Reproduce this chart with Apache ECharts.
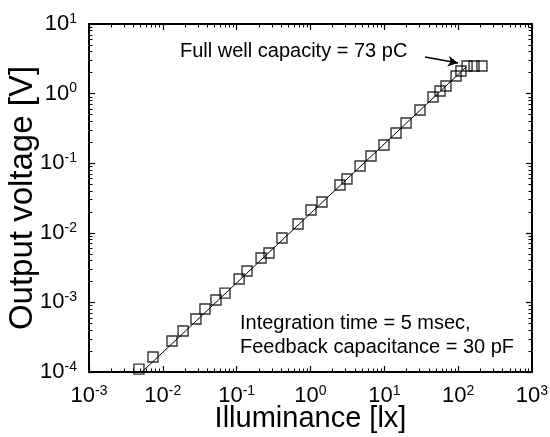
<!DOCTYPE html>
<html>
<head>
<meta charset="utf-8">
<script src="https://cdn.jsdelivr.net/npm/echarts@6/dist/echarts.min.js"></script>
<style>
  html, body { margin: 0; padding: 0; background: #fff; }
  #chart { width: 550px; height: 437px; }
</style>
</head>
<body>
<div id="chart"></div>
<script>
// measured points: illuminance [lx] vs output voltage [V]
const illuminance = [0.00475, 0.00736, 0.0133, 0.0188, 0.0281, 0.0372, 0.0525, 0.0695, 0.108, 0.138,
  0.214, 0.274, 0.411, 0.678, 1.016, 1.43, 2.51, 3.12, 4.69, 6.6,
  9.9, 14.4, 19.7, 30.4, 45.6, 56.8, 68.4, 93.5, 109, 132, 164, 210]
const voltage = [1.1e-4, 1.64e-4, 2.79e-4, 3.88e-4, 5.77e-4, 8.04e-4, 1.08e-3, 1.36e-3, 2.17e-3, 2.83e-3,
  4.35e-3, 5.13e-3, 8.42e-3, 0.01337, 0.0213, 0.0277, 0.0486, 0.0593, 0.0912, 0.127,
  0.1825, 0.272, 0.378, 0.581, 0.894, 1.09, 1.285, 1.79, 2.11, 2.49, 2.49, 2.49]

// fitted line
const fitX = [0.0052, 128]
const fitY = [1.0e-4, 2.41]

// arrow annotation (data coords)
const arrowFrom = [35.6, 3.36]
const arrowTo = [99.5, 2.75]

const xRange = [1e-3, 1e3]
const yRange = [1e-4, 1e1]

const font = 'Liberation Sans, Arial, sans-serif'

const pointData = illuminance.map((x, i) => [x, voltage[i]])
const fitData = fitX.map((x, i) => [x, fitY[i]])

function powLabel(v) {
  const e = Math.round(Math.log10(v))
  return '{b|10}{e|' + e + '}'
}
const rich = {
  b: { fontSize: 22, fontFamily: font, color: '#000', lineHeight: 24 },
  e: { fontSize: 14, fontFamily: font, color: '#000', verticalAlign: 'top', lineHeight: 14 }
}

function baseAxis(range, extra) {
  return Object.assign({
    type: 'log',
    logBase: 10,
    min: range[0],
    max: range[1],
    axisLine: { show: true, lineStyle: { color: '#000', width: 2 } },
    axisTick: { show: true, inside: true, length: 6, lineStyle: { color: '#000', width: 1.2 } },
    minorTick: { show: true, splitNumber: 9, length: 3.5, lineStyle: { color: '#000', width: 1 } },
    splitLine: { show: false },
    minorSplitLine: { show: false }
  }, extra)
}

const chart = echarts.init(document.getElementById('chart'), null, { renderer: 'canvas' })
chart.setOption({
  animation: false,
  backgroundColor: '#fff',
  grid: { left: 89, right: 18, top: 24, bottom: 65, containLabel: false, outerBoundsMode: 'none' },
  xAxis: [
    baseAxis(xRange, {
      position: 'bottom',
      name: 'Illuminance [lx]',
      nameLocation: 'middle',
      nameGap: 32,
      nameMoveOverlap: false,
      nameTextStyle: { fontSize: 29, fontFamily: font, color: '#000' },
      axisLabel: { margin: 12, fontSize: 22, formatter: powLabel, rich: rich }
    }),
    baseAxis(xRange, { position: 'top', axisLabel: { show: false } })
  ],
  yAxis: [
    baseAxis(yRange, {
      position: 'left',
      name: 'Output voltage [V]',
      nameLocation: 'middle',
      nameGap: 50,
      nameMoveOverlap: false,
      nameTextStyle: { fontSize: 33, fontFamily: font, color: '#000' },
      axisLabel: { margin: 12, fontSize: 22, formatter: powLabel, rich: rich }
    }),
    baseAxis(yRange, { position: 'right', axisLabel: { show: false } })
  ],
  series: [
    {
      type: 'line',
      data: fitData,
      symbol: 'none',
      lineStyle: { color: '#000', width: 1 },
      silent: true,
      markLine: {
        silent: true,
        symbol: ['none', 'arrow'],
        symbolSize: [8, 10],
        label: { show: false },
        lineStyle: { color: '#000', width: 1.5, type: 'solid' },
        data: [[{ coord: arrowFrom }, { coord: arrowTo }]]
      }
    },
    {
      type: 'scatter',
      data: pointData,
      symbol: 'rect',
      symbolSize: 10,
      itemStyle: { color: 'rgba(0,0,0,0)', borderColor: '#000', borderWidth: 1.4 }
    }
  ],
  graphic: [
    {
      type: 'text', left: 180, top: 41,
      style: { text: 'Full well capacity = 73 pC', font: '20px ' + font, fill: '#000' }
    },
    {
      type: 'text', left: 240, top: 311,
      style: { text: 'Integration time = 5 msec,\nFeedback capacitance = 30 pF', font: '20px ' + font, fill: '#000', lineHeight: 24 }
    }
  ]
})
</script>
</body>
</html>
